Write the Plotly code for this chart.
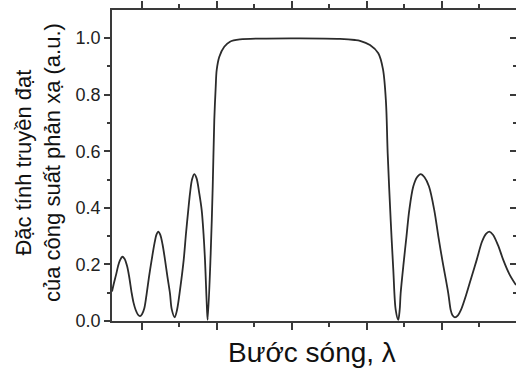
import plotly.graph_objects as go

# Relative wavelength (arbitrary units, one major tick per unit) and reflected power
wavelength = [
    0.604, 0.631, 0.657, 0.684, 0.711, 0.741, 0.771, 0.804, 0.831, 0.867,
    0.891, 0.920, 0.951, 0.977, 1.004, 1.035, 1.067, 1.097, 1.133, 1.171,
    1.197, 1.221, 1.247, 1.277, 1.311, 1.344, 1.377, 1.400, 1.440, 1.471,
    1.511, 1.560, 1.591, 1.621, 1.644, 1.671, 1.701, 1.731, 1.768, 1.800,
    1.824, 1.844, 1.857, 1.871, 1.880, 1.920, 1.947, 1.968, 1.987, 2.000,
    2.035, 2.101, 2.177, 2.311, 2.577, 3.111, 3.644, 3.844, 3.911, 4.044,
    4.155, 4.217, 4.257, 4.280, 4.320, 4.355, 4.387, 4.421, 4.440, 4.453,
    4.497, 4.531, 4.568, 4.621, 4.671, 4.720, 4.771, 4.831, 4.901, 4.955,
    5.008, 5.088, 5.120, 5.144, 5.177, 5.217, 5.257, 5.333, 5.397, 5.467,
    5.537, 5.591, 5.635, 5.684, 5.751, 5.821, 5.904, 5.991,
]
reflectance = [
    0.104, 0.135, 0.162, 0.193, 0.215, 0.227, 0.220, 0.195, 0.160, 0.098,
    0.065, 0.039, 0.022, 0.017, 0.024, 0.045, 0.098, 0.155, 0.216, 0.275,
    0.305, 0.316, 0.305, 0.272, 0.216, 0.155, 0.098, 0.042, 0.013, 0.039,
    0.110, 0.216, 0.310, 0.392, 0.451, 0.500, 0.519, 0.505, 0.451, 0.392,
    0.310, 0.216, 0.130, 0.039, 0.004, 0.239, 0.475, 0.710, 0.828, 0.887,
    0.934, 0.969, 0.987, 0.995, 0.998, 0.999, 0.997, 0.993, 0.990, 0.975,
    0.946, 0.890, 0.775, 0.593, 0.357, 0.180, 0.039, 0.004, 0.039, 0.098,
    0.216, 0.300, 0.392, 0.475, 0.508, 0.519, 0.508, 0.475, 0.392, 0.300,
    0.216, 0.098, 0.039, 0.020, 0.013, 0.020, 0.039, 0.098, 0.155, 0.216,
    0.280, 0.308, 0.316, 0.305, 0.268, 0.216, 0.165, 0.127,
]

x_range = [0.604, 5.991]
y_range = [0.0, 1.099]

x_title = "Bước sóng, λ"
y_title = "Đặc tính truyền đạt<br>của công suất phản xạ (a.u.)"

AX = "#3a3a3a"
FONT = "Arial, Liberation Sans, sans-serif"

major_x = dict(ticklen=7, tickwidth=1.5, tickcolor=AX, tick0=1, dtick=1)
minor_x = dict(ticklen=4, tickwidth=1.5, tickcolor=AX, tick0=0.5, dtick=0.5, showgrid=False)
major_y = dict(ticklen=6, tickwidth=1.5, tickcolor=AX, tick0=0, dtick=0.2)
minor_y = dict(ticklen=3, tickwidth=1.5, tickcolor=AX, tick0=0, dtick=0.1, showgrid=False)

fig = go.Figure()
fig.add_trace(go.Scatter(
    x=wavelength, y=reflectance, mode="lines",
    line=dict(color="#2b2b2b", width=1.8, shape="spline", smoothing=0.9),
    showlegend=False, hoverinfo="skip",
))
# invisible anchor trace so the top and right tick axes are laid out
fig.add_trace(go.Scatter(
    x=[x_range[0]], y=[y_range[0]], xaxis="x2", yaxis="y2", mode="markers",
    marker=dict(opacity=0), showlegend=False, hoverinfo="skip",
))

fig.update_layout(
    width=516, height=372,
    margin=dict(l=112, r=0, t=10, b=51),
    paper_bgcolor="white", plot_bgcolor="white",
    font=dict(family=FONT, color="#222222"),
    xaxis=dict(
        range=x_range, showline=True, linecolor=AX, linewidth=1.5,
        ticks="outside", **major_x,
        showticklabels=False, showgrid=False, zeroline=False,
        minor=dict(ticks="outside", **minor_x),
    ),
    xaxis2=dict(
        range=x_range, overlaying="x", side="top", anchor="y",
        showline=True, linecolor=AX, linewidth=1.5,
        ticks="outside", **major_x,
        showticklabels=False, showgrid=False, zeroline=False,
        minor=dict(ticks="outside", **minor_x),
    ),
    yaxis=dict(
        range=y_range, showline=True, linecolor=AX, linewidth=1.5,
        ticks="outside", **major_y, tickformat=".1f",
        tickfont=dict(size=18, color="#222222"),
        showgrid=False, zeroline=False,
        minor=dict(ticks="outside", **minor_y),
    ),
    yaxis2=dict(
        range=y_range, overlaying="y", side="right", anchor="x",
        showline=False, ticks="inside", **major_y,
        showticklabels=False, showgrid=False, zeroline=False,
        minor=dict(ticks="inside", **minor_y),
    ),
    annotations=[
        dict(text=x_title, xref="paper", yref="paper",
             x=(312 - 112) / 404, y=-(352 - 321) / 311,
             xanchor="center", yanchor="middle", showarrow=False,
             font=dict(size=28, color="#111111")),
        dict(text=y_title, xref="paper", yref="paper",
             x=(38 - 112) / 404, y=(321 - 163) / 311,
             xanchor="center", yanchor="middle", textangle=-90, showarrow=False,
             font=dict(size=22, color="#111111")),
    ],
)

fig.write_html("out.html")
